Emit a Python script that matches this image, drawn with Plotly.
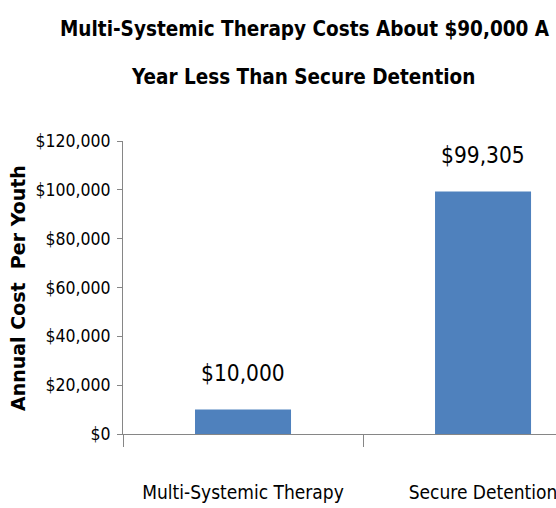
import plotly.graph_objects as go

categories = ["Multi-Systemic Therapy", "Secure Detention"]
costs = [10000, 99305]
labels = ["$10,000", "$99,305"]
title_lines = ["Multi-Systemic Therapy Costs About $90,000 A", "Year Less Than Secure Detention"]
y_title = "Annual Cost  Per Youth"

NARROW = "DejaVu Sans Condensed, Liberation Sans Narrow, Arial Narrow, sans-serif"
W, H = 556, 508
L, R, T, B = 123, 0, 141, 74
pw, ph = W - L - R, H - T - B

fig = go.Figure()
fig.add_trace(go.Bar(
    x=categories, y=costs, width=0.4,
    marker=dict(color="#4F81BD", line=dict(width=0)),
    hoverinfo="skip",
))

for c, v, t in zip(categories, costs, labels):
    fig.add_annotation(x=c, y=v, text=t, showarrow=False, yanchor="bottom", yshift=22,
                       font=dict(family=NARROW, size=22.5, color="#000000"))

def py(px):
    return (H - B - px) / ph

def pxx(px):
    return (px - L) / pw

fig.add_annotation(xref="paper", yref="paper", x=pxx(305), y=py(29), text="<b>" + title_lines[0] + "</b>",
                   showarrow=False, xanchor="center", yanchor="middle",
                   font=dict(family=NARROW, size=20.5, color="#000000"))
fig.add_annotation(xref="paper", yref="paper", x=pxx(303), y=py(77), text="<b>" + title_lines[1] + "</b>",
                   showarrow=False, xanchor="center", yanchor="middle",
                   font=dict(family=NARROW, size=20.5, color="#000000"))
fig.add_annotation(xref="paper", yref="paper", x=pxx(18), y=py(288), text="<b>" + y_title + "</b>",
                   textangle=-90, showarrow=False, xanchor="center", yanchor="middle",
                   font=dict(family="DejaVu Sans, Verdana, sans-serif", size=19, color="#000000"))

fig.update_layout(
    width=W, height=H,
    margin=dict(l=L, r=R, t=T, b=B, pad=0, autoexpand=False),
    paper_bgcolor="white", plot_bgcolor="white",
    showlegend=False,
    xaxis=dict(
        range=[-0.5, 1.304], showgrid=False, showline=True, linecolor="#868686", linewidth=1,
        ticks="outside", tickson="boundaries", ticklen=12, tickcolor="#868686",
        tickfont=dict(family=NARROW, size=19, color="#000000"), tickangle=0, automargin=False,
        zeroline=False, fixedrange=True, ticklabelstandoff=41,
    ),
    yaxis=dict(
        range=[0, 120000], dtick=20000, tickprefix="$", tickformat=",",
        showgrid=False, showline=True, linecolor="#868686", linewidth=1,
        ticks="outside", ticklen=5, tickcolor="#868686", automargin=False,
        tickfont=dict(family=NARROW, size=17.5, color="#000000"), ticklabelstandoff=3,
        zeroline=False, fixedrange=True,
    ),
)

fig.write_html("out.html")
